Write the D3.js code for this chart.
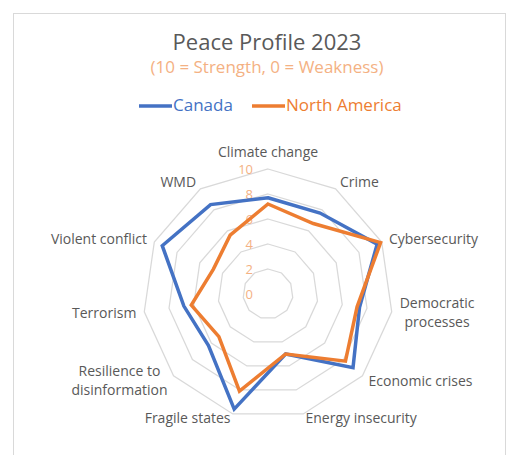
<!DOCTYPE html>
<html><head><meta charset="utf-8">
<script src="https://cdn.jsdelivr.net/npm/d3@7"></script>
<style>
html,body{margin:0;padding:0;background:#fff;}
svg{display:block;font-family:"Open Sans",sans-serif;}
</style></head>
<body><svg id="c" width="510" height="455"></svg>
<script>
const categories = ["Climate change","Crime","Cybersecurity","Democratic processes","Economic crises","Energy insecurity","Fragile states","Resilience to disinformation","Terrorism","Violent conflict","WMD"];
const labelLines = [["Climate change"],["Crime"],["Cybersecurity"],["Democratic","processes"],["Economic crises"],["Energy insecurity"],["Fragile states"],["Resilience to","disinformation"],["Terrorism"],["Violent conflict"],["WMD"]];
const canada = [7.7, 7.7, 9.6, 7.4, 9.0, 5.0, 9.6, 6.3, 6.8, 9.3, 8.5];
const northAmerica = [7.2, 6.7, 9.9, 7.2, 8.2, 5.0, 8.1, 5.2, 6.2, 4.8, 5.6];
const ticks = [0, 2, 4, 6, 8, 10];
const seriesNames = ["Canada", "North America"];
const colors = ["#4472C4", "#ED7D31"];

const svg = d3.select("#c");
svg.append("rect").attr("x",13.5).attr("y",13.5).attr("width",492).attr("height",460)
  .attr("fill","#fff").attr("stroke","#D9D9D9").attr("stroke-width",1);

const cx = 268, cy = 294;
const r = d3.scaleLinear().domain([0,10]).range([0,125]);
const n = categories.length;
const ang = d3.scaleLinear().domain([0,n]).range([0, 2*Math.PI]);
const pt = (i, v) => [cx + r(v)*Math.sin(ang(i)), cy - r(v)*Math.cos(ang(i))];

const g = svg.append("g");
// rings
ticks.filter(t=>t>0).forEach(t=>{
  g.append("path").attr("d", d3.line()(d3.range(n).map(i=>pt(i,t))) + "Z")
   .attr("fill","none").attr("stroke","#D9D9D9").attr("stroke-width",1.25);
});
// tick labels
g.selectAll("text.tick").data(ticks).join("text")
  .attr("x", cx-15).attr("y", d=>cy - r(d)).attr("dy","0.35em")
  .attr("text-anchor","end").attr("font-size",13).attr("fill","#F4B183").text(d=>d);

// series
[canada, northAmerica].forEach((s, k)=>{
  g.append("path").attr("d", d3.line()(s.map((v,i)=>pt(i,v))) + "Z")
   .attr("fill","none").attr("stroke",colors[k]).attr("stroke-width",3.5).attr("stroke-linejoin","miter");
});

// category labels
const fs = 14;
labelLines.forEach((lines, i)=>{
  const a = ang(i), s = Math.sin(a), c = Math.cos(a);
  const [px, py] = [cx + 133*s, cy - 133*c];
  const lh = 19;
  const t = svg.append("text").attr("font-size",fs).attr("fill","#595959");
  let anchor = Math.abs(s) < 0.1 ? "middle" : (s > 0 ? "start" : "end");
  let yc = py;
  if (Math.abs(s) < 0.1) yc = py - 9;
  else if (c < -0.9) yc = py - 3.5;
  if (lines.length > 1) {
    const tmp = svg.append("text").attr("font-size",fs).text(lines.reduce((a,b)=>a.length>b.length?a:b));
    const w = tmp.node().getComputedTextLength(); tmp.remove();
    const xc = anchor === "start" ? px + w/2 : px - w/2;
    t.attr("text-anchor","middle");
    lines.forEach((l, j)=>{
      t.append("tspan").attr("x", xc).attr("y", yc + (j - (lines.length-1)/2)*lh).attr("dy","0.35em").text(l);
    });
  } else {
    t.attr("text-anchor", anchor).attr("x", px).attr("y", yc).attr("dy","0.35em").text(lines[0]);
  }
});

// title
svg.append("text").attr("x",267).attr("y",50).attr("text-anchor","middle")
  .attr("font-size",22).attr("fill","#595959").text("Peace Profile 2023");
svg.append("text").attr("x",267).attr("y",73).attr("text-anchor","middle")
  .attr("font-size",17).attr("fill","#F4B183").text("(10 = Strength, 0 = Weakness)");

// legend
const lx = [139, 252];
seriesNames.forEach((name, k)=>{
  svg.append("line").attr("x1",lx[k]).attr("x2",lx[k]+33).attr("y1",106).attr("y2",106)
    .attr("stroke",colors[k]).attr("stroke-width",3.5);
  svg.append("text").attr("x",lx[k]+34).attr("y",111).attr("font-size",17)
    .attr("fill",colors[k]).text(name);
});
</script></body></html>
